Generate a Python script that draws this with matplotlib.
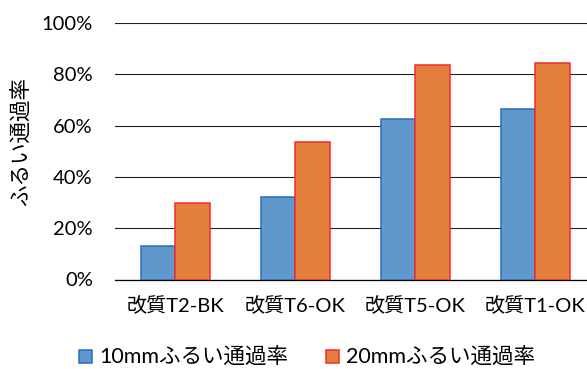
import matplotlib
matplotlib.use("Agg")
import matplotlib.pyplot as plt
from matplotlib.patches import Patch
import numpy as np

plt.rcParams['font.family'] = ['Lato', 'Noto Sans CJK JP', 'DejaVu Sans']

categories = ["改質T2-BK", "改質T6-OK", "改質T5-OK", "改質T1-OK"]
series_names = ["10mmふるい通過率", "20mmふるい通過率"]
pass_10mm = [13.1, 32.3, 62.6, 66.5]
pass_20mm = [29.8, 53.8, 83.7, 84.4]
y_ticks = [0, 20, 40, 60, 80, 100]
y_tick_labels = ["0%", "20%", "40%", "60%", "80%", "100%"]
y_label = "ふるい通過率"

W, H = 587, 369
fig = plt.figure(figsize=(W / 100, H / 100), dpi=100)
ax = fig.add_axes([115 / W, 1 - 279.5 / H, 480 / W, (279.5 - 23) / H])

x = np.arange(len(categories))
bw = 0.2875
ax.bar(x - bw / 2, pass_10mm, width=bw, color="#6098CD", edgecolor="#2A6FB5",
       linewidth=1.1, zorder=3)
ax.bar(x + bw / 2, pass_20mm, width=bw, color="#E47E3D", edgecolor="#F02C2C",
       linewidth=1.1, zorder=3)

ax.set_xlim(-0.5, 3.5)
ax.set_ylim(0, 100)
ax.set_yticks(y_ticks)
ax.set_yticklabels(y_tick_labels, fontsize=14.5)
ax.set_xticks(x)
ax.set_xticklabels(categories, fontsize=14.5)
ax.tick_params(axis="y", length=0, pad=16)
ax.tick_params(axis="x", length=0, pad=12)
ax.grid(axis="y", color="#222222", linewidth=0.8, zorder=0)
ax.set_axisbelow(True)
for s in ["top", "right", "left"]:
    ax.spines[s].set_visible(False)
ax.spines["bottom"].set_color("#000000")
ax.spines["bottom"].set_linewidth(0.9)

fig.text(22 / W, 1 - 141 / H, y_label, rotation=90, fontsize=15.5,
         ha="center", va="center")

handles = [
    Patch(facecolor="#6098CD", edgecolor="#2A6FB5", linewidth=1.1),
    Patch(facecolor="#E47E3D", edgecolor="#F02C2C", linewidth=1.1),
]
fig.legend(handles, series_names, loc="center", ncol=2,
           bbox_to_anchor=(307 / W, 1 - 358 / H), frameon=False, fontsize=15.5,
           handlelength=0.6, handleheight=0.6, handletextpad=0.33,
           columnspacing=1.75, borderpad=0)

fig.savefig("out.png", dpi=100)
